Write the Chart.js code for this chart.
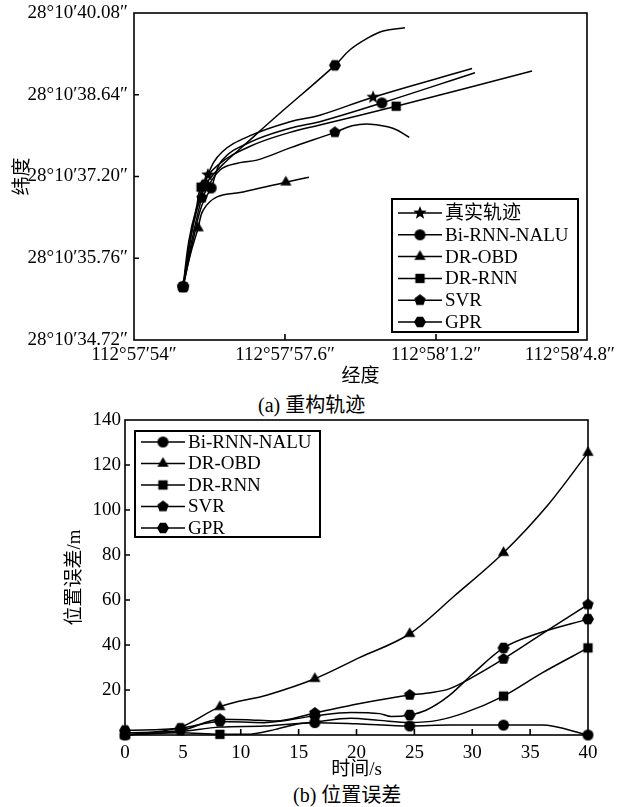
<!DOCTYPE html>
<html>
<head>
<meta charset="utf-8">
<script src="https://cdn.jsdelivr.net/npm/chart.js@4.4.1/dist/chart.umd.min.js"></script>
<style>
  body { margin: 0; background: #fff; }
  #page { position: relative; width: 626px; height: 807px; overflow: hidden; background: #fff; }
  canvas { position: absolute; left: 0; }
  #trackChart { top: 0; }
  #errorChart { top: 400px; }
  .caption { position: absolute; font: 20px/24px 'Liberation Serif', 'Noto Sans CJK SC', serif; color: #000; white-space: nowrap; }
</style>
</head>
<body>
<div id="page">
  <canvas id="trackChart" width="626" height="390"></canvas>
  <div class="caption" style="left:258px; top:393px;">(a) 重构轨迹</div>
  <canvas id="errorChart" width="626" height="382"></canvas>
  <div class="caption" style="left:293px; top:783px;">(b) 位置误差</div>
</div>
<script>
// (a) 重构轨迹 : lon in seconds after 112°57', lat in tick steps
const lonTicks = [54, 57.6, 61.2, 64.8];
const lonLabels = ["112°57′54″", "112°57′57.6″", "112°58′1.2″", "112°58′4.8″"];
const latTicks = [0, 1, 2, 3, 4];
const latLabels = ["28°10′34.72″", "28°10′35.76″", "28°10′37.20″", "28°10′38.64″", "28°10′40.08″"];

const trueLon = [55.17, 55.38, 55.57, 55.76, 56.10, 56.77, 57.72, 58.43, 59.70, 62.06];
const trueLat = [0.65, 1.22, 1.65, 2.02, 2.30, 2.50, 2.67, 2.75, 2.97, 3.32];
const trueMark = [1, 0, 0, 1, 0, 0, 0, 0, 1, 0];

const naluLon = [55.17, 55.41, 55.62, 55.84, 56.10, 56.77, 57.72, 58.43, 59.91, 62.13];
const naluLat = [0.65, 1.22, 1.65, 1.86, 2.20, 2.42, 2.59, 2.67, 2.90, 3.27];
const naluMark = [1, 0, 0, 1, 0, 0, 0, 0, 1, 0];

const obdLon = [55.17, 55.34, 55.53, 55.65, 55.98, 56.60, 57.62, 58.17];
const obdLat = [0.65, 1.04, 1.37, 1.59, 1.75, 1.81, 1.93, 1.99];
const obdMark = [1, 0, 1, 0, 0, 0, 1, 0];

const rnnLon = [55.17, 55.34, 55.50, 55.60, 56.00, 56.77, 57.72, 58.43, 60.25, 63.49];
const rnnLat = [0.65, 1.22, 1.65, 1.87, 2.14, 2.37, 2.54, 2.63, 2.86, 3.29];
const rnnMark = [1, 0, 0, 1, 0, 0, 0, 0, 1, 0];

const svrLon = [55.17, 55.31, 55.48, 55.62, 56.05, 56.53, 56.93, 57.72, 58.79, 59.20, 59.63, 60.17, 60.56];
const svrLat = [0.65, 1.22, 1.59, 1.74, 2.08, 2.17, 2.20, 2.35, 2.54, 2.62, 2.64, 2.59, 2.48];
const svrMark = [1, 0, 0, 1, 0, 0, 0, 0, 1, 0, 0, 0, 0];

const gprLon = [55.17, 55.34, 55.50, 55.69, 56.88, 58.79, 59.15, 59.56, 59.94, 60.46];
const gprLat = [0.65, 1.22, 1.59, 1.90, 2.50, 3.36, 3.55, 3.69, 3.78, 3.82];
const gprMark = [1, 0, 0, 1, 0, 1, 0, 0, 0, 0];

// (b) 位置误差
const timeTicks = [0, 5, 10, 15, 20, 25, 30, 35, 40];
const errTicks = [0, 20, 40, 60, 80, 100, 120, 140];

const eNaluT = [0, 4.8, 8.2, 12, 16.4, 20, 24.6, 28, 32.7, 36, 40];
const eNaluV = [0, 1.5, 3.5, 4, 5.5, 5, 4, 4.4, 4.4, 4.4, 0];
const eNaluMark = [1, 0, 0, 0, 1, 0, 1, 0, 1, 0, 1];

const eObdT = [0, 4.8, 8.2, 12.3, 16.4, 20.3, 24.6, 28.5, 32.7, 36.5, 40];
const eObdV = [0, 3.5, 12.5, 17.8, 25, 34.5, 45, 62, 81, 102, 125.5];
const eObdMark = [1, 0, 1, 0, 1, 0, 1, 0, 1, 0, 1];

const eRnnT = [0, 4.8, 8.2, 10.5, 13, 15, 16.4, 19.5, 22, 24.6, 27, 29.2, 32.7, 36, 40];
const eRnnV = [0, 1, 0.3, 0.3, 2.5, 5, 5.8, 7.5, 6.5, 5.6, 6.5, 9.6, 17.3, 27.5, 38.7];
const eRnnMark = [1, 0, 1, 0, 0, 0, 0, 0, 0, 0, 0, 0, 1, 0, 1];

const eSvrT = [0, 4.8, 8.2, 10.5, 13, 16.4, 20.3, 24.6, 26.4, 28, 30, 32.7, 36.5, 40];
const eSvrV = [1, 2, 7, 6.8, 6.2, 9.8, 14, 17.8, 18.8, 20.5, 25.6, 33.8, 46.5, 58];
const eSvrMark = [0, 1, 1, 0, 0, 1, 0, 1, 0, 0, 0, 1, 0, 1];

const eGprT = [0, 4.8, 8.2, 12, 16.4, 19.5, 22, 23, 24.6, 26, 28, 30, 32.7, 35.6, 40];
const eGprV = [2, 3, 6, 5.5, 8.5, 10, 9.5, 8.2, 8.9, 11, 17.5, 27, 38.7, 45, 51.5];
const eGprMark = [1, 1, 1, 0, 1, 0, 0, 0, 1, 0, 0, 0, 1, 0, 1];

const FONT = "'Liberation Serif', 'Noto Sans CJK SC', serif";
const tickFont = { family: FONT, size: 19 };

const makeMarker = (shape, r) => {
  const c = document.createElement("canvas");
  const s = Math.ceil(r * 2 + 2);
  c.width = s;
  c.height = s;
  const ctx = c.getContext("2d");
  ctx.fillStyle = "#000";
  ctx.translate(s / 2, s / 2);
  ctx.beginPath();
  if (shape === "circle") {
    ctx.arc(0, 0, r, 0, Math.PI * 2);
  } else if (shape === "square") {
    ctx.rect(-r * 0.85, -r * 0.85, r * 1.7, r * 1.7);
  } else {
    const n = { triangle: 3, pentagon: 5, hexagon: 6, star: 10 }[shape];
    const start = shape === "hexagon" ? 0 : -Math.PI / 2;
    for (let i = 0; i < n; i++) {
      const a = start + (i * Math.PI * 2) / n;
      const rr = shape === "star" && i % 2 ? r * 0.42 : r;
      ctx.lineTo(Math.cos(a) * rr, Math.sin(a) * rr);
    }
    ctx.closePath();
  }
  ctx.fill();
  return c;
};

const marks = {
  star: makeMarker("star", 7),
  circle: makeMarker("circle", 5.5),
  triangle: makeMarker("triangle", 6.5),
  square: makeMarker("square", 5.5),
  pentagon: makeMarker("pentagon", 6),
  hexagon: makeMarker("hexagon", 6),
};

const lineSet = (label, xs, ys, mark, marker, smooth) => ({
  label,
  data: xs.map((x, i) => ({ x, y: ys[i] })),
  borderColor: "#000",
  backgroundColor: "#000",
  borderWidth: 1.5,
  tension: 0.4,
  cubicInterpolationMode: smooth,
  pointStyle: marker,
  pointRadius: mark.map((m) => (m ? 5 : 0)),
  clip: false,
});

// frame with inward tick marks
const framePlugin = {
  id: "frame",
  beforeDatasetsDraw(chart) {
    const { ctx, chartArea: a, scales } = chart;
    ctx.save();
    ctx.strokeStyle = "#000";
    ctx.lineWidth = 1.6;
    ctx.strokeRect(a.left, a.top, a.right - a.left, a.bottom - a.top);
    ctx.beginPath();
    scales.x.ticks.forEach((t) => {
      const x = scales.x.getPixelForValue(t.value);
      if (x > a.left + 2 && x < a.right - 2) {
        ctx.moveTo(x, a.bottom);
        ctx.lineTo(x, a.bottom - 6);
      }
    });
    scales.y.ticks.forEach((t) => {
      const y = scales.y.getPixelForValue(t.value);
      if (y > a.top + 2 && y < a.bottom - 2) {
        ctx.moveTo(a.left, y);
        ctx.lineTo(a.left + 5, y);
      }
    });
    ctx.stroke();
    ctx.restore();
  },
};

const boxLegend = {
  id: "boxLegend",
  afterDraw(chart, args, o) {
    const { ctx, chartArea: a } = chart;
    const left = o.left != null ? a.left + o.left : a.right - o.right - o.width;
    const top = o.top != null ? a.top + o.top : a.bottom - o.bottom - o.height;
    ctx.save();
    ctx.fillStyle = "#fff";
    ctx.fillRect(left, top, o.width, o.height);
    ctx.strokeStyle = "#000";
    ctx.lineWidth = 2;
    ctx.strokeRect(left, top, o.width, o.height);
    ctx.lineWidth = 1.5;
    ctx.font = "19px " + FONT;
    ctx.textBaseline = "middle";
    ctx.fillStyle = "#000";
    chart.data.datasets.forEach((ds, i) => {
      const y = top + o.first + i * o.step;
      ctx.beginPath();
      ctx.moveTo(left + 6, y);
      ctx.lineTo(left + 50, y);
      ctx.stroke();
      const img = ds.pointStyle;
      ctx.drawImage(img, left + 28 - img.width / 2, y - img.height / 2);
      ctx.fillText(ds.label, left + 53, y + 1);
    });
    ctx.restore();
  },
};

// longitude labels, the last one is pulled inside the page
const lonLabelPlugin = {
  id: "lonLabels",
  afterDraw(chart) {
    const { ctx, chartArea: a, scales: { x } } = chart;
    ctx.save();
    ctx.font = "19px " + FONT;
    ctx.textAlign = "center";
    ctx.textBaseline = "middle";
    ctx.fillStyle = "#000";
    x.ticks.forEach((t) => {
      const text = lonLabels[lonTicks.indexOf(t.value)];
      const w = ctx.measureText(text).width;
      const px = Math.min(x.getPixelForValue(t.value), chart.width - 11 - w / 2);
      ctx.fillText(text, px, a.bottom + 15);
    });
    ctx.restore();
  },
};

const noGrid = { display: false, drawTicks: false };

new Chart(document.querySelector("#trackChart"), {
  type: "line",
  data: {
    datasets: [
      lineSet("真实轨迹", trueLon, trueLat, trueMark, marks.star, "default"),
      lineSet("Bi-RNN-NALU", naluLon, naluLat, naluMark, marks.circle, "default"),
      lineSet("DR-OBD", obdLon, obdLat, obdMark, marks.triangle, "default"),
      lineSet("DR-RNN", rnnLon, rnnLat, rnnMark, marks.square, "default"),
      lineSet("SVR", svrLon, svrLat, svrMark, marks.pentagon, "default"),
      lineSet("GPR", gprLon, gprLat, gprMark, marks.hexagon, "default"),
    ],
  },
  options: {
    responsive: false,
    animation: false,
    events: [],
    layout: { padding: { top: 13, right: 39, left: 0, bottom: 0 } },
    plugins: {
      legend: { display: false },
      tooltip: { enabled: false },
      boxLegend: { right: 9, bottom: 8, width: 186, height: 133, first: 14, step: 21.8 },
    },
    scales: {
      x: {
        type: "linear",
        min: lonTicks[0],
        max: lonTicks[lonTicks.length - 1],
        afterBuildTicks: (s) => { s.ticks = lonTicks.map((value) => ({ value })); },
        ticks: { display: false },
        grid: noGrid,
        border: { display: false },
        title: { display: true, text: "经度", color: "#000", font: tickFont, padding: { top: 0, bottom: 2 } },
        afterFit: (s) => { s.height = 50; s.paddingLeft = 0; s.paddingRight = 0; },
      },
      y: {
        type: "linear",
        min: latTicks[0],
        max: latTicks[latTicks.length - 1],
        afterBuildTicks: (s) => { s.ticks = latTicks.map((value) => ({ value })); },
        ticks: { color: "#000", font: tickFont, padding: 6, callback: (v) => latLabels[latTicks.indexOf(v)] },
        grid: noGrid,
        border: { display: false },
        title: { display: true, text: "纬度", color: "#000", font: tickFont, padding: { top: 12, bottom: 0 } },
        afterFit: (s) => { s.width = 134; s.paddingTop = 0; s.paddingBottom = 0; },
      },
    },
  },
  plugins: [framePlugin, boxLegend, lonLabelPlugin],
});

new Chart(document.querySelector("#errorChart"), {
  type: "line",
  data: {
    datasets: [
      lineSet("Bi-RNN-NALU", eNaluT, eNaluV, eNaluMark, marks.circle, "monotone"),
      lineSet("DR-OBD", eObdT, eObdV, eObdMark, marks.triangle, "monotone"),
      lineSet("DR-RNN", eRnnT, eRnnV, eRnnMark, marks.square, "monotone"),
      lineSet("SVR", eSvrT, eSvrV, eSvrMark, marks.pentagon, "monotone"),
      lineSet("GPR", eGprT, eGprV, eGprMark, marks.hexagon, "monotone"),
    ],
  },
  options: {
    responsive: false,
    animation: false,
    events: [],
    layout: { padding: { top: 20, right: 38, left: 0, bottom: 0 } },
    plugins: {
      legend: { display: false },
      tooltip: { enabled: false },
      boxLegend: { left: 10, top: 11, width: 185, height: 106, first: 11, step: 21.5 },
    },
    scales: {
      x: {
        type: "linear",
        min: 0,
        max: 40,
        afterBuildTicks: (s) => { s.ticks = timeTicks.map((value) => ({ value })); },
        ticks: { color: "#000", font: tickFont, padding: 7 },
        grid: noGrid,
        border: { display: false },
        title: { display: true, text: "时间/s", color: "#000", font: tickFont, padding: { top: 0, bottom: 1 } },
        afterFit: (s) => { s.height = 47; s.paddingLeft = 0; s.paddingRight = 0; },
      },
      y: {
        type: "linear",
        min: 0,
        max: 140,
        afterBuildTicks: (s) => { s.ticks = errTicks.map((value) => ({ value })); },
        ticks: { color: "#000", font: tickFont, padding: 4, callback: (v) => (v === 0 ? "" : v) },
        grid: noGrid,
        border: { display: false },
        title: { display: true, text: "位置误差/m", color: "#000", font: tickFont, padding: { top: 64, bottom: 0 } },
        afterFit: (s) => { s.width = 125; s.paddingTop = 0; s.paddingBottom = 0; },
      },
    },
  },
  plugins: [framePlugin, boxLegend],
});
</script>
</body>
</html>
